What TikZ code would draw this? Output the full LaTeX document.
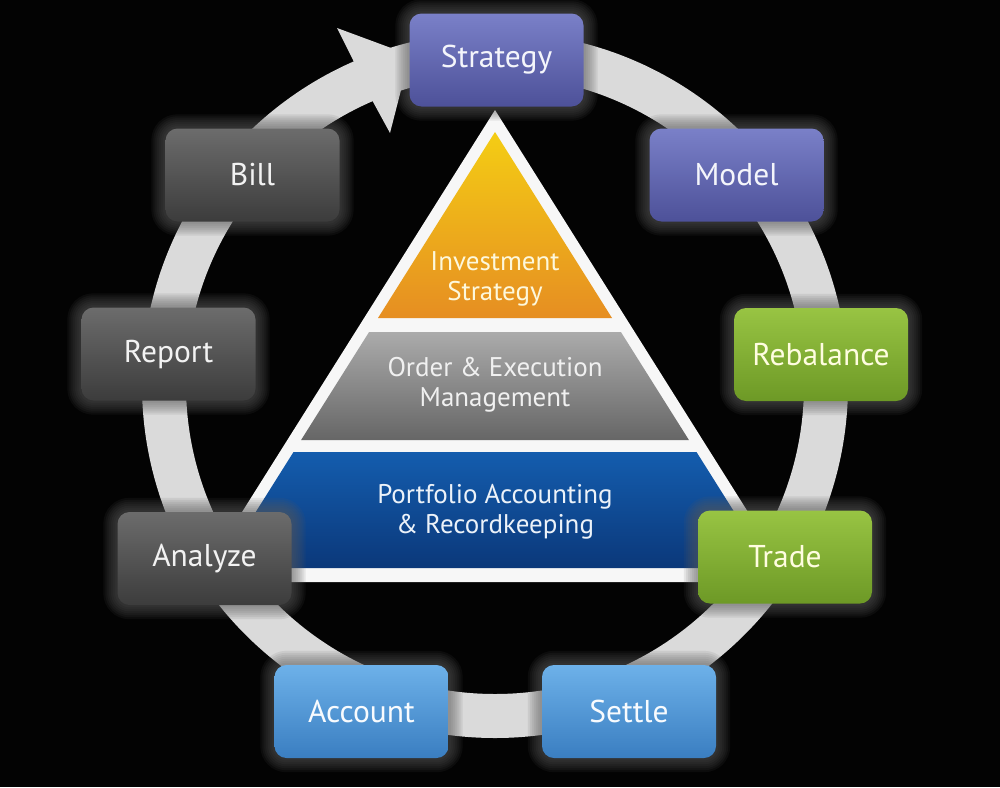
\documentclass[tikz,border=0pt]{standalone}
\usepackage{fontspec}
\setmainfont{PT Sans}
\usetikzlibrary{calc}
\definecolor{bgcol}{HTML}{030303}
\definecolor{ringcol}{HTML}{DADADA}
\definecolor{pTop}{HTML}{7A80C8}
\definecolor{pBot}{HTML}{4D5199}
\definecolor{gTop}{HTML}{98C443}
\definecolor{gBot}{HTML}{6D9926}
\definecolor{bTop}{HTML}{6DB1E9}
\definecolor{bBot}{HTML}{3A7EC1}
\definecolor{kTop}{HTML}{6C6C6C}
\definecolor{kBot}{HTML}{3C3C3C}
\definecolor{oTop}{HTML}{F4CD14}
\definecolor{oBot}{HTML}{E68E22}
\definecolor{mTop}{HTML}{ABABAB}
\definecolor{mBot}{HTML}{666666}
\definecolor{lTop}{HTML}{145DAE}
\definecolor{lBot}{HTML}{0B387A}
\definecolor{glowcol}{HTML}{5A5A5A}
\pgfdeclarelayer{bg}
\pgfdeclarelayer{glow}
\pgfsetlayers{bg,glow,main}
\tikzset{
  stagebox/.style={rounded corners=12pt, minimum width=174pt, minimum height=93pt,
    inner sep=0pt, font=\fontsize{31.5}{36}\selectfont},
  purplebox/.style={stagebox, top color=pTop, bottom color=pBot, text=white!92!pTop},
  greenbox/.style={stagebox, top color=gTop, bottom color=gBot, text=white!88!yellow},
  bluebox/.style={stagebox, top color=bTop, bottom color=bBot, text=white!95!bTop},
  graybox/.style={stagebox, top color=kTop, bottom color=kBot, text=white!95!black},
  ring/.style={draw=ringcol, line width=44pt},
  whiteframe/.style={fill=white!97!black},
  layertext/.style={align=center, font=\fontsize{27}{30}\selectfont, inner sep=0pt}
}
\newcommand\glowof[1]{%
  \foreach \g in {2,4,...,14}{%
    \pgfmathsetmacro\rc{12+\g}%
    \fill[glowcol, opacity=0.11, rounded corners=\rc pt]
      ($(#1.north west)+(-\g,-\g)$) rectangle ($(#1.south east)+(\g,\g)$);}}
\begin{document}
\begin{tikzpicture}[x=1pt,y=-1pt]
\useasboundingbox (0,0) rectangle (1000,787);
\begin{pgfonlayer}{bg}
  \fill[bgcol] (0,0) rectangle (1000,787);
  % cycle ring
  \coordinate (c) at (495,385);
  \draw[ring] (c) circle (331pt);
  \fill[ringcol] (337,28) -- (410,55) -- (390,133) -- (372,100) -- (353,60) -- cycle;
  % pyramid
  \fill[whiteframe] (495,110) -- (198,582) -- (792,582) -- cycle;
  \shade[top color=oTop, bottom color=oBot] (495,132) -- (378,318) -- (612,318) -- cycle;
  \shade[top color=mTop, bottom color=mBot] (369.1,332) -- (620.9,332) -- (688.9,440) -- (301.1,440) -- cycle;
  \shade[top color=lTop, bottom color=lBot] (293.5,452) -- (696.5,452) -- (769.5,568) -- (220.5,568) -- cycle;
\end{pgfonlayer}
\node[layertext, text=white!85!oTop] (inv) at (495,279) {Investment\\Strategy};
\node[layertext, text=white!94!black] (oem) at (495,385) {Order \& Execution\\Management};
\node[layertext, text=white!92!lTop] (par) at (495,512) {Portfolio Accounting\\\& Recordkeeping};
% stage boxes
\node[purplebox] (strategy) at (496.5,60) {Strategy};
\node[purplebox] (model) at (736.5,175) {Model};
\node[greenbox] (rebalance) at (821,354.5) {Rebalance};
\node[greenbox] (trade) at (785,557) {Trade};
\node[bluebox] (settle) at (629,711.5) {Settle};
\node[bluebox] (account) at (361.5,711.5) {Account};
\node[graybox] (analyze) at (204.5,558.5) {Analyze};
\node[graybox] (report) at (168.5,354) {Report};
\node[graybox] (bill) at (252.5,175) {Bill};
\begin{pgfonlayer}{glow}
  \foreach \n in {strategy,model,rebalance,trade,settle,account,analyze,report,bill}{\glowof{\n}}
\end{pgfonlayer}
\end{tikzpicture}
\end{document}
